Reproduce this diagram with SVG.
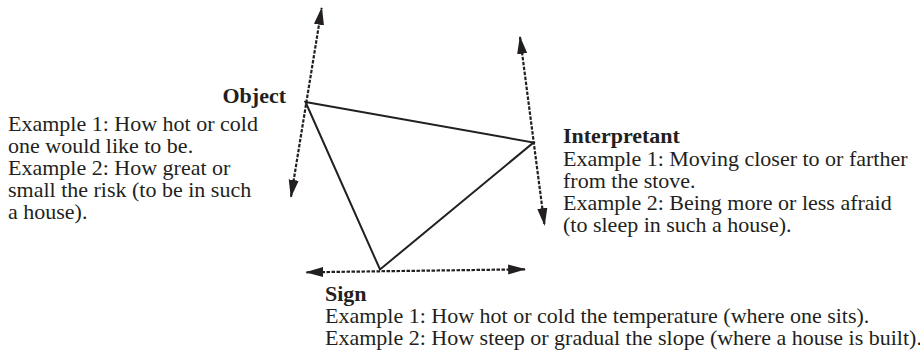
<svg xmlns="http://www.w3.org/2000/svg" width="920" height="361" viewBox="0 0 920 361">
<style>
text { font-family: "Liberation Serif", "Times New Roman", serif; font-size: 22px; fill: #231f20; }
.h { font-weight: bold; }
.tri { fill: none; stroke: #231f20; stroke-width: 2; stroke-linejoin: miter; }
.axis { fill: none; stroke: #231f20; stroke-width: 2.2; stroke-dasharray: 3.5 1.5; marker-start: url(#ah); marker-end: url(#ah); }
</style>
<defs>
<marker id="ah" markerUnits="userSpaceOnUse" markerWidth="18" markerHeight="12" viewBox="0 0 16 10" refX="15" refY="5" orient="auto-start-reverse">
<path d="M0,0.5 L16,5 L0,9.5 Z" fill="#231f20"/>
</marker>
</defs>
<g id="connectors">
<polygon class="tri" points="305.5,102 533.5,142.5 380,269.5"/>
<path class="axis" d="M291,196.7 L321.7,8"/>
<path class="axis" d="M520,37 L544.5,225"/>
<path class="axis" d="M306.5,272.3 L525,269.3"/>
</g>
<g id="object">
<text class="h" x="286" y="103" text-anchor="end">Object</text>
<text x="8" y="131">Example 1: How hot or cold</text>
<text x="8" y="153">one would like to be.</text>
<text x="8" y="175">Example 2: How great or</text>
<text x="8" y="197">small the risk (to be in such</text>
<text x="8" y="219">a house).</text>
</g>
<g id="interpretant">
<text class="h" x="563" y="143">Interpretant</text>
<text x="563" y="166">Example 1: Moving closer to or farther</text>
<text x="563" y="188">from the stove.</text>
<text x="563" y="210">Example 2: Being more or less afraid</text>
<text x="563" y="232">(to sleep in such a house).</text>
</g>
<g id="sign">
<text class="h" x="325" y="301">Sign</text>
<text x="325" y="323">Example 1: How hot or cold the temperature (where one sits).</text>
<text x="325" y="345">Example 2: How steep or gradual the slope (where a house is built).</text>
</g>
</svg>
